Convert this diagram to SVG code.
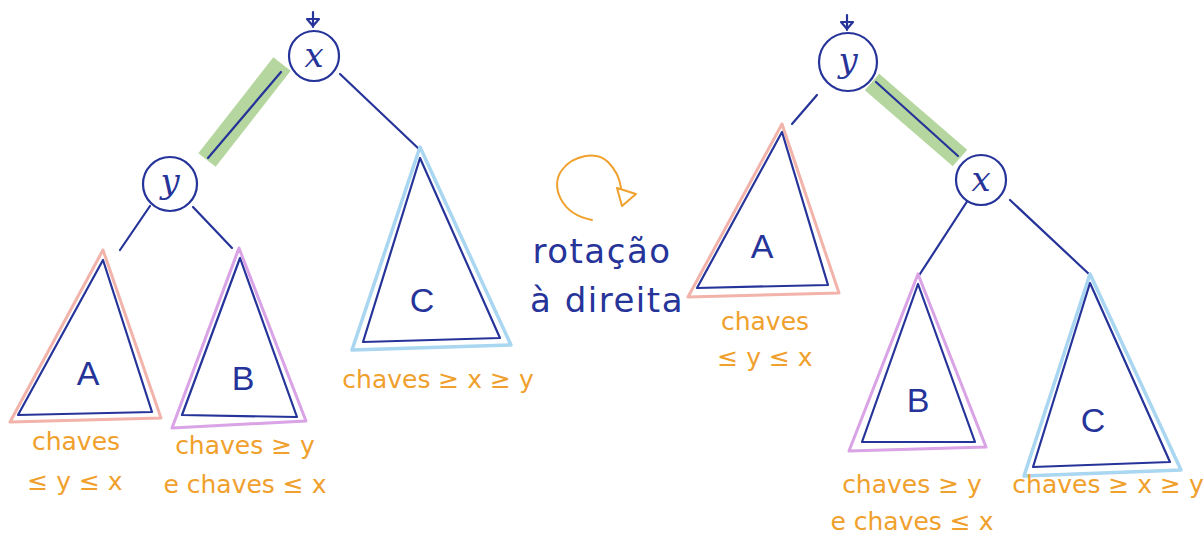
<svg xmlns="http://www.w3.org/2000/svg" width="1203" height="539" viewBox="0 0 1203 539">
<style>
.ink{fill:none;stroke:#26349a;stroke-width:2.2;stroke-linecap:round;stroke-linejoin:round}
.node{fill:#fff;stroke:#26349a;stroke-width:2.2}
.hl{stroke:#a9d08e;stroke-width:22;stroke-linecap:butt;opacity:0.85}
.pink{fill:none;stroke:#f2b3aa;stroke-width:3;stroke-linejoin:round}
.purple{fill:none;stroke:#d9a3e6;stroke-width:3;stroke-linejoin:round}
.lblue{fill:none;stroke:#a9d6f0;stroke-width:3.5;stroke-linejoin:round}
.var{font-family:"DejaVu Serif",serif;font-style:italic;font-size:34px;fill:#26349a;text-anchor:middle}
.sub{font-family:"Liberation Sans",sans-serif;font-size:34px;fill:#26349a;text-anchor:middle}
.note{font-family:"DejaVu Sans",sans-serif;font-size:25px;fill:#f0a02c;text-anchor:middle}
.rot{font-family:"DejaVu Sans",sans-serif;font-size:34px;letter-spacing:1.5px;fill:#26349a;text-anchor:middle}
</style>
<rect width="1203" height="539" fill="#fff"/>

<g id="connectors">
  <line class="hl" x1="207" y1="160" x2="282" y2="64"/>
  <line class="ink" x1="208" y1="158" x2="281" y2="72"/>
  <line class="ink" x1="340" y1="74" x2="420" y2="150"/>
  <line class="ink" x1="150" y1="206" x2="120" y2="250"/>
  <line class="ink" x1="193" y1="207" x2="232" y2="248"/>
  <line class="hl" x1="872" y1="82" x2="960" y2="158"/>
  <line class="ink" x1="876" y1="82" x2="958" y2="156"/>
  <line class="ink" x1="817" y1="95" x2="792" y2="124"/>
  <line class="ink" x1="968" y1="200" x2="918" y2="277"/>
  <line class="ink" x1="1010" y1="200" x2="1090" y2="275"/>
</g>

<g id="left-x">
  <path class="ink" d="M313 12 V27 M307 19 L319 19 L313 26 Z"/>
  <circle class="node" cx="314" cy="56" r="25"/>
  <text class="var" x="314" y="67">x</text>
</g>
<g id="left-y">
  <circle class="node" cx="170" cy="184" r="27"/>
  <text class="var" x="170" y="193">y</text>
</g>
<g id="left-A">
  <polygon class="pink" points="103,250 10,422 161,418"/>
  <polygon class="ink" points="103,260 18,415 152,412"/>
  <text class="sub" x="88" y="385">A</text>
  <text class="note" x="76" y="450">chaves</text>
  <text class="note" x="75" y="490">≤ y ≤ x</text>
</g>
<g id="left-B">
  <polygon class="purple" points="239,248 172,428 306,421"/>
  <polygon class="ink" points="240,258 182,415 297,417"/>
  <text class="sub" x="243" y="390">B</text>
  <text class="note" x="245" y="454">chaves ≥ y</text>
  <text class="note" x="245" y="493">e chaves ≤ x</text>
</g>
<g id="left-C">
  <polygon class="lblue" points="420,147 352,350 511,345"/>
  <polygon class="ink" points="420,158 363,342 500,338"/>
  <text class="sub" x="422" y="312">C</text>
  <text class="note" x="438" y="388">chaves ≥ x ≥ y</text>
</g>

<g id="rotation">
  <path d="M592 220 C560 214 550 185 562 170 C572 156 596 150 608 162 C616 170 620 180 621 188" fill="none" stroke="#f0a02c" stroke-width="2" stroke-linecap="round"/>
  <polygon points="617,188 636,194 622,206" fill="none" stroke="#f0a02c" stroke-width="2" stroke-linejoin="round"/>
  <text class="rot" x="602" y="263">rotação</text>
  <text class="rot" x="607" y="312">à direita</text>
</g>

<g id="right-y">
  <path class="ink" d="M847 15 V30 M841 22 L853 22 L847 29 Z"/>
  <circle class="node" cx="848" cy="62" r="29"/>
  <text class="var" x="848" y="72">y</text>
</g>
<g id="right-x">
  <circle class="node" cx="981" cy="180" r="25"/>
  <text class="var" x="981" y="191">x</text>
</g>
<g id="right-A">
  <polygon class="pink" points="782,124 688,297 839,293"/>
  <polygon class="ink" points="782,132 697,288 828,285"/>
  <text class="sub" x="762" y="258">A</text>
  <text class="note" x="765" y="330">chaves</text>
  <text class="note" x="765" y="366">≤ y ≤ x</text>
</g>
<g id="right-B">
  <polygon class="purple" points="918,274 849,451 986,447"/>
  <polygon class="ink" points="918,284 862,442 975,442"/>
  <text class="sub" x="918" y="412">B</text>
  <text class="note" x="912" y="493">chaves ≥ y</text>
  <text class="note" x="912" y="530">e chaves ≤ x</text>
</g>
<g id="right-C">
  <polygon class="lblue" points="1090,274 1024,476 1181,470"/>
  <polygon class="ink" points="1090,283 1033,467 1170,462"/>
  <text class="sub" x="1093" y="432">C</text>
  <text class="note" x="1108" y="493">chaves ≥ x ≥ y</text>
</g>
</svg>
